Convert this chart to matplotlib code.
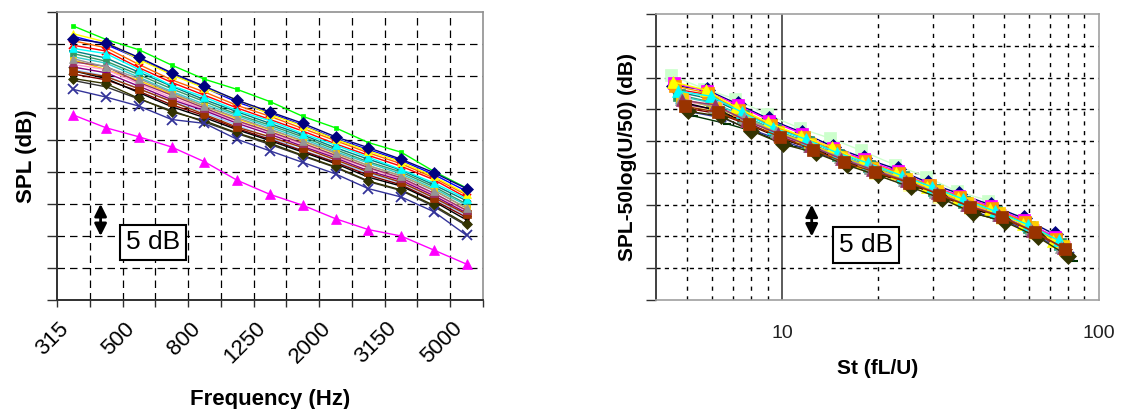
import numpy as np
import matplotlib
matplotlib.use('Agg')
import matplotlib.pyplot as plt
import matplotlib.transforms as mtransforms
from matplotlib.ticker import FixedLocator, FixedFormatter, NullFormatter, NullLocator

plt.rcParams['font.family'] = ['Liberation Sans', 'DejaVu Sans']

# ---------------- data ----------------
freq_bands = [315, 400, 500, 630, 800, 1000, 1250, 1600, 2000, 2500, 3150, 4000, 5000]
freq_labels = ['315', '', '500', '', '800', '', '1250', '', '2000', '', '3150', '', '5000']
L_ref = 0.76      # characteristic length (m)
U_ref = 50.0      # reference velocity (m/s)

spl_lime = [82.8, 80.7, 79.1, 76.7, 74.5, 72.9, 71.0, 68.7, 66.9, 64.6, 63.1, 60.1, 57.5]
spl_navy = [80.8, 80.1, 77.9, 75.5, 73.4, 71.2, 69.4, 67.6, 65.5, 63.8, 62.0, 59.9, 57.4]
spl_yellow = [81.6, 80.3, 77.6, 75.2, 73.1, 71.3, 69.0, 67.2, 65.1, 63.3, 61.6, 59.3, 56.6]
spl_blue = [81.2, 79.9, 77.7, 75.3, 73.2, 70.9, 69.2, 67.3, 65.2, 63.5, 61.8, 59.6, 57.0]
spl_orange = [80.5, 79.4, 76.8, 74.4, 72.5, 70.4, 68.7, 66.8, 64.9, 63.0, 61.3, 59.1, 56.4]
spl_red = [79.8, 78.9, 76.3, 74.0, 72.0, 70.0, 68.2, 66.4, 64.4, 62.6, 60.9, 58.8, 56.0]
spl_cyan = [79.3, 78.5, 76.0, 73.5, 71.7, 69.6, 68.0, 66.0, 64.2, 62.3, 60.4, 58.3, 55.8]
spl_teal = [78.9, 77.8, 75.6, 73.4, 71.3, 69.4, 67.6, 65.8, 63.8, 62.0, 60.3, 58.0, 55.5]
spl_green = [78.5, 77.3, 75.2, 73.0, 71.0, 69.0, 67.3, 65.5, 63.5, 61.6, 60.0, 57.7, 55.0]
spl_sky = [78.0, 77.0, 74.8, 72.6, 70.6, 68.8, 67.0, 65.2, 63.2, 61.4, 59.7, 57.4, 54.8]
spl_gray = [77.7, 76.4, 74.6, 72.4, 70.3, 68.5, 66.7, 64.9, 63.0, 61.0, 59.4, 57.1, 54.4]
spl_plum = [77.2, 76.5, 74.0, 72.0, 70.0, 68.0, 66.3, 64.5, 62.6, 60.7, 59.1, 56.7, 54.0]
spl_gold = [77.5, 76.0, 74.3, 72.2, 70.3, 68.3, 66.6, 64.8, 62.9, 61.0, 59.4, 57.2, 54.3]
spl_pink = [76.8, 76.0, 73.8, 71.6, 69.8, 67.9, 66.2, 64.3, 62.4, 60.6, 58.9, 56.6, 53.9]
spl_purple = [76.4, 75.5, 73.4, 71.3, 69.6, 67.6, 65.9, 64.0, 62.2, 60.2, 58.7, 56.3, 53.6]
spl_ltblue = [76.0, 75.0, 73.0, 71.0, 69.3, 67.3, 65.3, 63.4, 61.6, 59.8, 58.3, 55.9, 53.2]
spl_brown = [75.8, 74.9, 73.0, 71.0, 69.0, 67.0, 65.5, 63.8, 61.9, 60.0, 58.4, 56.0, 53.4]
spl_darkred = [75.3, 74.4, 72.6, 70.5, 68.8, 66.8, 65.1, 63.3, 61.5, 59.5, 58.0, 55.6, 52.9]
spl_black = [75.8, 74.6, 72.4, 70.2, 68.5, 66.6, 64.9, 63.1, 61.3, 59.2, 57.8, 55.4, 52.5]
spl_olive = [74.6, 73.8, 71.5, 69.4, 68.0, 66.1, 64.5, 62.6, 60.8, 58.6, 57.2, 54.8, 51.8]
spl_slate = [74.3, 73.3, 71.4, 69.6, 67.8, 66.0, 64.3, 62.5, 60.7, 58.5, 57.1, 54.6, 51.6]
spl_bluex = [72.9, 71.7, 70.3, 68.2, 67.6, 65.1, 63.3, 61.5, 59.7, 57.4, 56.1, 53.8, 50.1]
spl_magenta = [68.9, 66.9, 65.5, 63.9, 61.6, 58.7, 56.5, 54.8, 52.7, 51.0, 50.0, 47.8, 45.6]

# flow velocity of each run (m/s); the magenta run (background) is not scaled
velocities = {
    'lime': 53.5, 'navy': 52.5, 'yellow': 53.0, 'blue': 52.5, 'orange': 52.0,
    'red': 51.5, 'cyan': 51.0, 'teal': 50.5, 'green': 50.5, 'sky': 50.0,
    'gray': 50.0, 'plum': 49.5, 'gold': 49.5, 'pink': 49.0, 'purple': 49.0,
    'ltblue': 48.5, 'brown': 48.5, 'darkred': 48.0, 'black': 47.5,
    'olive': 47.5, 'slate': 47.0, 'bluex': 45.5, 'magenta': None,
}

# (name, values, colour, marker, markersize)
series = [
    ('blue', spl_blue, '#0000FF', 'None', 0),
    ('orange', spl_orange, '#FF6600', 'None', 0),
    ('red', spl_red, '#FF0000', 'x', 6),
    ('teal', spl_teal, '#008080', '+', 6),
    ('green', spl_green, '#339966', 's', 5),
    ('sky', spl_sky, '#33CCCC', 'None', 0),
    ('gold', spl_gold, '#FFCC00', 's', 5),
    ('pink', spl_pink, '#FF99CC', 'None', 0),
    ('ltblue', spl_ltblue, '#99CCFF', 'None', 0),
    ('purple', spl_purple, '#800080', '*', 6),
    ('darkred', spl_darkred, '#800000', '*', 6),
    ('black', spl_black, '#000000', 'x', 6),
    ('slate', spl_slate, '#333333', 'None', 0),
    ('olive', spl_olive, '#333300', 'D', 5),
    ('brown', spl_brown, '#993300', 's', 6),
    ('plum', spl_plum, '#993366', '^', 6),
    ('gray', spl_gray, '#969696', '^', 6),
    ('cyan', spl_cyan, '#00FFFF', '^', 6),
    ('yellow', spl_yellow, '#FFFF00', '^', 6),
    ('bluex', spl_bluex, '#333399', 'x', 7),
    ('magenta', spl_magenta, '#FF00FF', '^', 7),
    ('lime', spl_lime, '#00FF00', 's', 3),
    ('navy', spl_navy, '#000080', 'D', 6),
]

# marker style of each run in the scaled (scatter) panel
right_markers = {
    'navy': ('D', '#000080'), 'lime': ('s', '#CCFFCC'), 'yellow': ('^', '#FFFF00'),
    'blue': ('s', '#FF00FF'), 'orange': ('s', '#FF9900'), 'red': ('x', '#FF0000'),
    'cyan': ('^', '#00FFFF'), 'teal': ('+', '#008080'), 'green': ('s', '#339966'),
    'sky': ('^', '#33CCCC'), 'gray': ('^', '#969696'), 'plum': ('^', '#993366'),
    'gold': ('s', '#FFCC00'), 'pink': ('s', '#FF99CC'), 'purple': ('*', '#800080'),
    'ltblue': ('s', '#FFFF99'), 'brown': ('s', '#993300'), 'darkred': ('*', '#800000'),
    'black': ('_', '#000000'), 'olive': ('D', '#333300'), 'slate': ('x', '#333399'),
    'bluex': ('_', '#003300'),
}
right_order = ['lime', 'navy', 'bluex', 'slate', 'blue', 'ltblue', 'red', 'teal',
               'green', 'sky', 'pink', 'purple', 'darkred', 'black', 'gold',
               'orange', 'yellow', 'cyan', 'gray', 'olive', 'plum', 'brown']

# ---------------- figure ----------------
fig = plt.figure(figsize=(11.31, 4.09), dpi=100)
W, H = 1131, 409
ax1 = fig.add_axes([57 / W, 1 - 300 / H, (483 - 57) / W, (300 - 12) / H])
ax2 = fig.add_axes([656 / W, 1 - 300 / H, (1099 - 656) / W, (300 - 14) / H])

x_idx = np.arange(len(freq_bands))

# ---- left panel ----
for name, vals, col, mk, ms in series:
    ax1.plot(x_idx, vals, color=col, lw=1.0, marker=mk, ms=ms,
             mec=col, mfc=col, mew=1.3 if mk in ('x', '+') else 0.5, zorder=3)

ax1.set_xlim(-0.5, len(freq_bands) - 0.5)
ax1.set_ylim(40, 85)
ax1.xaxis.set_major_locator(FixedLocator(x_idx))
ax1.xaxis.set_major_formatter(FixedFormatter(freq_labels))
ax1.xaxis.set_minor_locator(FixedLocator(np.arange(-0.5, len(freq_bands), 1.0)))
ax1.tick_params(axis='x', which='major', length=0, pad=13, labelsize=16,
                labelrotation=45)
ax1.tick_params(axis='x', which='minor', length=5, width=1, color='#303030', direction='out')
ax1.yaxis.set_major_locator(FixedLocator(np.arange(40, 86, 5)))
ax1.yaxis.set_major_formatter(NullFormatter())
ax1.tick_params(axis='y', length=7, width=1, color='#303030', direction='out')
offset = mtransforms.ScaledTranslation(-15 / 100, 0, fig.dpi_scale_trans)
for lab in ax1.get_xticklabels():
    lab.set_ha('right')
    lab.set_rotation_mode('anchor')
    lab.set_transform(lab.get_transform() + offset)

for xv in np.arange(0.5, len(freq_bands) - 1, 1.0):
    ax1.axvline(xv, color='black', lw=0.9, ls=(0, (6, 4)), zorder=1)
for yv in np.arange(45, 85, 5):
    ax1.axhline(yv, color='black', lw=0.9, ls=(0, (6, 4)), zorder=1)

for s in ['top', 'right']:
    ax1.spines[s].set_color('#909090')
    ax1.spines[s].set_linewidth(1.2)
for s in ['left', 'bottom']:
    ax1.spines[s].set_color('#303030')
    ax1.spines[s].set_linewidth(1.4)

ax1.set_ylabel('SPL (dB)', fontsize=16, fontweight='bold', labelpad=4)
ax1.set_xlabel('Frequency (Hz)', fontsize=16, fontweight='bold', labelpad=15)

ax1.annotate('', xy=(0.83, 50), xytext=(0.83, 55),
             arrowprops=dict(arrowstyle='<|-|>', color='black', lw=2,
                             mutation_scale=18, shrinkA=0, shrinkB=0), zorder=5)
ax1.text(2.43, 49.0, '5 dB', fontsize=19, ha='center', va='center', zorder=6,
         bbox=dict(boxstyle='square,pad=0.22', fc='white', ec='black', lw=1.5))

# ---- right panel ----
lookup = {name: vals for name, vals, col, mk, ms in series}
for name in right_order:
    U = velocities[name]
    vals = lookup[name]
    mk2, col2 = right_markers[name]
    st = np.array(freq_bands) * L_ref / U
    y = np.array(vals) - 50 * np.log10(U / U_ref)
    ax2.plot(st, y, color=col2, lw=1.0, marker=mk2,
             ms=6 if mk2 in ('x', '+', '_') else 8,
             mec=col2, mfc=col2, mew=1.5 if mk2 in ('x', '+', '_') else 0.5, zorder=3)

ax2.set_xscale('log')
ax2.set_xlim(4, 100)
ax2.set_ylim(46, 91)
ax2.xaxis.set_major_locator(FixedLocator([10, 100]))
ax2.xaxis.set_major_formatter(FixedFormatter(['10', '100']))
ax2.xaxis.set_minor_locator(NullLocator())
ax2.tick_params(axis='x', length=0, pad=18, labelsize=14, labelcolor='#202020')
ax2.yaxis.set_major_locator(FixedLocator(np.arange(46, 92, 5)))
ax2.yaxis.set_major_formatter(NullFormatter())
ax2.tick_params(axis='y', length=7, width=1, color='#303030', direction='out')

ax2.axvline(10, color='#404040', lw=1.2, zorder=1)
for xv in [5, 6, 7, 8, 9, 20, 30, 40, 50, 60, 70, 80, 90]:
    ax2.axvline(xv, color='black', lw=1.0, ls=(0, (3, 4)), zorder=1)
for yv in np.arange(51, 91, 5):
    ax2.axhline(yv, color='black', lw=1.0, ls=(0, (3, 3)), zorder=1)

for s in ['top', 'right', 'bottom']:
    ax2.spines[s].set_color('#a0a0a0')
    ax2.spines[s].set_linewidth(1.2)
ax2.spines['left'].set_color('#404040')
ax2.spines['left'].set_linewidth(1.4)

ax2.set_ylabel('SPL-50log(U/50) (dB)', fontsize=15, fontweight='bold', labelpad=3)
ax2.set_xlabel('St (fL/U)', fontsize=15, fontweight='bold', labelpad=12)

ax2.annotate('', xy=(12.4, 56), xytext=(12.4, 61),
             arrowprops=dict(arrowstyle='<|-|>', color='black', lw=2,
                             mutation_scale=18, shrinkA=0, shrinkB=0), zorder=5)
ax2.text(18.4, 54.7, '5 dB', fontsize=19, ha='center', va='center', zorder=6,
         bbox=dict(boxstyle='square,pad=0.22', fc='white', ec='black', lw=1.5))

fig.savefig('out.png', dpi=100)
